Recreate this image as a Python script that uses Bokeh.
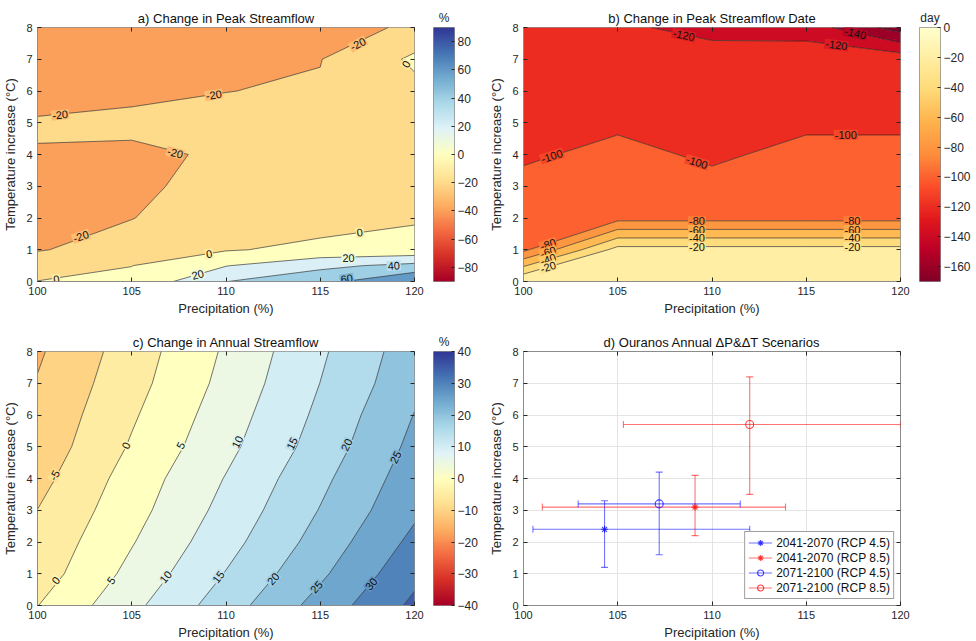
import numpy as np
from bokeh.plotting import figure
from bokeh.layouts import row, column
from bokeh.models import (ColumnDataSource, LinearAxis, FixedTicker, LinearColorMapper,
                          Legend, LegendItem, Range1d)
from bokeh.core.properties import value
from bokeh.embed import file_html
from bokeh.resources import INLINE

# ======================= DATA =======================
precip = [100, 105, 110, 115, 120]
precip_ticks = [100, 105, 110, 115, 120]
temp_ticks = [0, 1, 2, 3, 4, 5, 6, 7, 8]

# (a) Change in peak streamflow (%), one list per precipitation column
temp_a = [0, 0.5, 1, 2, 3, 4, 5, 6, 7, 8]
peak_p100 = [0.3, -7.2, -21.4, -25, -26, -22, -16.3, -34.8, -36, -37]
peak_p105 = [4.5, -0.3, -10.5, -20.5, -24.5, -24.5, -14.5, -25.5, -28, -30]
peak_p110 = [39.7, 19.2, -1.5, -8, -12, -17, -16, -20.2, -24, -28]
peak_p115 = [53.4, 35.3, 4.7, -8, -12, -14, -16, -18.5, -20.5, -37.5]
peak_p120 = [79.5, 45.6, 5.6, -1.6, -4, -5, -4, -5, 3.3, -13.2]
peak_levels = [-40, -20, 0, 20, 40, 60, 80, 100]
peak_cbar_ticks = [-80, -60, -40, -20, 0, 20, 40, 60, 80]

# (b) Change in peak streamflow date (day)
temp_b = [0, 1, 2, 3, 4, 5, 6, 7, 8]
date_p100 = [-0.5, -84.2, -90, -96, -102.2, -105, -108, -110, -112]
date_p105 = [-6, -12.6, -86.6, -92, -96, -102.5, -106, -110, -115.8]
date_p110 = [-6, -12.6, -86.6, -96, -102.3, -104, -106, -109, -127.6]
date_p115 = [-6, -12.6, -86.6, -92, -96, -102.5, -105, -108, -129]
date_p120 = [-6, -12.6, -86.6, -92, -96, -102.5, -105, -107.6, -169.6]
date_levels = [-180, -160, -140, -120, -100, -80, -60, -40, -20, 0]
date_cbar_ticks = [-160, -140, -120, -100, -80, -60, -40, -20, 0]

# (c) Change in annual streamflow (%)
temp_c = [0, 1, 2, 3, 4, 5, 6, 7, 8]
annual_p100 = [-0.1, -2.55, -3.67, -4.95, -6.65, -8.14, -8.94, -9.70, -10.68]
annual_p105 = [8.70, 6.43, 4.67, 3.19, 2.12, 0.53, -0.63, -1.80, -2.58]
annual_p110 = [17.65, 15.24, 13.20, 11.58, 10.25, 8.68, 7.59, 6.46, 5.68]
annual_p115 = [26.92, 24.10, 21.95, 20.23, 18.79, 17.13, 16.06, 15.05, 14.23]
annual_p120 = [36.09, 33.64, 31.30, 29.06, 27.68, 26.34, 25.15, 23.58, 22.76]
annual_levels = [-15, -10, -5, 0, 5, 10, 15, 20, 25, 30, 35, 40]
annual_cbar_ticks = [-40, -30, -20, -10, 0, 10, 20, 30, 40]

# (d) Ouranos annual dP & dT scenarios
scen_names = ["2041-2070 (RCP 4.5)", "2041-2070 (RCP 8.5)",
              "2071-2100 (RCP 4.5)", "2071-2100 (RCP 8.5)"]
scen_precip = [104.3, 109.1, 107.2, 112.0]
scen_precip_low = [100.5, 101.0, 102.9, 105.3]
scen_precip_high = [112.0, 113.9, 111.5, 120.0]
scen_temp = [2.4, 3.1, 3.2, 5.7]
scen_temp_low = [1.2, 2.2, 1.6, 3.5]
scen_temp_high = [3.3, 4.1, 4.2, 7.2]

# contour labels (level value, position in data units, rotation in degrees)
a_lab_val = [-20, -20, -20, 0, -20, -20, 0, 0, 0, 20, 20, 40, 60]
a_lab_p = [101.2, 109.35, 117.0, 119.55, 107.3, 102.3, 101.0, 109.1, 117.1, 108.5, 116.5, 118.9, 116.4]
a_lab_t = [5.25, 5.88, 7.48, 6.85, 4.05, 1.42, 0.08, 0.87, 1.55, 0.22, 0.74, 0.5, 0.09]
a_lab_rot = [6, 9, 28, 60, -14, 19, 9, 9, 8, 16, 1, 4, 8]

b_lab_val = [-120, -140, -120, -100, -100, -100,
             -80, -60, -40, -20, -80, -60, -40, -20,
             -80, -60, -40, -20]
b_lab_p = [108.5, 117.6, 116.6, 117.1, 101.5, 109.2,
           109.2, 109.2, 109.2, 109.2, 117.45, 117.45, 117.45, 117.45,
           101.3, 101.3, 101.3, 101.3]
b_lab_t = [7.76, 7.82, 7.45, 4.62, 3.95, 3.76,
           1.9, 1.63, 1.37, 1.1, 1.9, 1.63, 1.37, 1.1,
           1.17, 0.93, 0.7, 0.46]
b_lab_rot = [-12, -13, -7, 0, 18, -18,
             0, 0, 0, 0, 0, 0, 0, 0,
             18, 18, 18, 18]

c_lab_val = [-5, 0, 5, 10, 15, 20, 25,
             0, 5, 10, 15, 20, 25, 30]
c_lab_p = [100.9, 104.7, 107.6, 110.6, 113.5, 116.4, 119.0,
           100.97, 103.9, 106.8, 109.6, 112.5, 114.8, 117.7]
c_lab_t = [4.1, 5.04, 5.04, 5.15, 5.1, 5.06, 4.67,
           0.79, 0.79, 0.9, 0.9, 0.84, 0.58, 0.68]
c_lab_rot = [62, 64, 62, 64, 64, 64, 64,
             51, 54, 50, 52, 49, 48, 49]

# ======================= STYLE =======================
FONT = "Liberation Sans"
AX_COLOR = "#262626"
BOX_COLOR = "#8c8c8c"
RDYLBU = ['#a50026', '#d73027', '#f46d43', '#fdae61', '#fee090', '#ffffbf',
          '#e0f3f8', '#abd9e9', '#74add1', '#4575b4', '#313695']
YLORRD_R = ['#800026', '#bd0026', '#e31a1c', '#fc4e2a', '#fd8d3c', '#feb24c',
            '#fed976', '#ffeda0', '#ffffcc']


def hex_rgb(h):
    return np.array([int(h[i:i + 2], 16) for i in (1, 3, 5)], float)


def rgb_hex(c):
    return "#%02x%02x%02x" % tuple(int(round(v)) for v in c)


def cmap_color(anchors, s):
    s = min(max(s, 0.0), 1.0)
    rgb = np.array([hex_rgb(h) for h in anchors])
    pos = np.linspace(0, 1, len(anchors))
    return rgb_hex([np.interp(s, pos, rgb[:, k]) for k in range(3)])


def cmap_palette(anchors, n):
    return [cmap_color(anchors, s) for s in np.linspace(0, 1, n)]


def band_colors(levels, anchors, lo, hi):
    return [cmap_color(anchors, (lv - lo) / (hi - lo)) for lv in levels[:-1]]


def style_axis(ax, label_size="11px"):
    ax.axis_line_color = BOX_COLOR
    ax.major_tick_line_color = AX_COLOR
    ax.major_tick_in = 4
    ax.major_tick_out = 0
    ax.minor_tick_line_color = None
    ax.major_label_text_font = FONT
    ax.major_label_text_font_size = label_size
    ax.major_label_text_color = AX_COLOR
    ax.axis_label_text_font = FONT
    ax.axis_label_text_font_size = "13px"
    ax.axis_label_text_font_style = "normal"
    ax.axis_label_text_color = AX_COLOR


def add_mirror_axes(p):
    # tick marks only on the top and right edges (labels not drawn)
    top = LinearAxis(ticker=FixedTicker(ticks=precip_ticks))
    right = LinearAxis(ticker=FixedTicker(ticks=temp_ticks))
    for ax in (top, right):
        ax.major_label_text_font_size = "1px"
        ax.major_label_text_color = None
        ax.major_label_standoff = 0
        ax.major_tick_in = 4
        ax.major_tick_out = 0
        ax.minor_tick_line_color = None
        ax.axis_line_color = None
        ax.major_tick_line_color = AX_COLOR
    p.add_layout(top, "above")
    p.add_layout(right, "right")


def make_panel(title, ml, mr, mt, mb):
    p = figure(frame_width=377, frame_height=254,
               x_range=Range1d(100, 120), y_range=Range1d(0, 8),
               min_border_left=ml, min_border_right=mr,
               min_border_top=mt, min_border_bottom=mb,
               toolbar_location=None, output_backend="svg")
    p.title.text = title
    p.title.align = "center"
    p.title.text_font = FONT
    p.title.text_font_size = "13px"
    p.title.text_font_style = "normal"
    p.title.text_color = "#111111"
    p.title.standoff = 3
    p.xaxis.axis_label = "Precipitation (%)"
    p.yaxis.axis_label = "Temperature increase (°C)"
    p.xaxis.ticker = FixedTicker(ticks=precip_ticks)
    p.yaxis.ticker = FixedTicker(ticks=temp_ticks)
    style_axis(p.xaxis[0])
    style_axis(p.yaxis[0])
    p.xaxis.major_label_standoff = 5
    p.yaxis.major_label_standoff = 5
    p.xaxis.axis_label_standoff = 3
    p.yaxis.axis_label_standoff = 5
    p.grid.visible = False
    p.outline_line_color = BOX_COLOR
    p.outline_line_width = 1
    return p


def add_contour(p, temps, cols, levels, fills):
    z = np.array(cols, dtype=float).T
    p.contour(x=np.array(precip, float), y=np.array(temps, float), z=z, levels=levels,
              fill_color=fills, line_color="#1a1a1a", line_width=0.6)


def add_labels(p, xs, ys, vals, rots, levels, fills):
    # label box tinted with the mean of the two bands it separates (gap in line)
    bgs = []
    for v in vals:
        k = levels.index(v)
        lo_c = hex_rgb(fills[max(k - 1, 0)])
        hi_c = hex_rgb(fills[min(k, len(fills) - 1)])
        bgs.append(rgb_hex((lo_c + hi_c) / 2))
    src = ColumnDataSource(dict(x=xs, y=ys, text=[str(v) for v in vals], angle=rots, bg=bgs))
    p.text(x="x", y="y", text="text", angle="angle", angle_units="deg", source=src,
           text_align="center", text_baseline="middle",
           text_font=value(FONT), text_font_size="11px", text_color="#111111",
           background_fill_color="bg", padding=1)


def make_cbar(lo, hi, ticks, anchors, unit, mt, mb, mr):
    p = figure(frame_width=21, frame_height=254, x_range=Range1d(0, 1), y_range=Range1d(lo, hi),
               x_axis_location=None, y_axis_location="right",
               min_border_left=0, min_border_right=mr, min_border_top=mt, min_border_bottom=mb,
               toolbar_location=None, output_backend="svg")
    grad = np.linspace(lo, hi, 256).reshape(-1, 1)
    mapper = LinearColorMapper(palette=cmap_palette(anchors, 256), low=lo, high=hi)
    p.image(image=[grad], x=0, y=lo, dw=1, dh=hi - lo, color_mapper=mapper)
    p.yaxis.ticker = FixedTicker(ticks=ticks)
    style_axis(p.yaxis[0], "12px")
    p.yaxis.major_tick_in = 3
    p.yaxis.major_label_standoff = 3
    p.yaxis.axis_line_color = None
    p.grid.visible = False
    p.outline_line_color = BOX_COLOR
    p.title.text = unit
    p.title.align = "center"
    p.title.text_font = FONT
    p.title.text_font_size = "12px"
    p.title.text_font_style = "normal"
    p.title.text_color = AX_COLOR
    p.title.standoff = 5
    return p


# ---- layout geometry (px) ----
TOP1, BOT1 = 27, 37
TOP2, BOT2 = 33, 35

# (a)
fills_a = band_colors(peak_levels, RDYLBU, -90, 90)
pa = make_panel("a) Change in Peak Streamflow", 32, 19, TOP1, BOT1)
add_contour(pa, temp_a, [peak_p100, peak_p105, peak_p110, peak_p115, peak_p120],
            peak_levels, fills_a)
add_labels(pa, a_lab_p, a_lab_t, a_lab_val, a_lab_rot, peak_levels, fills_a)
add_mirror_axes(pa)
cba = make_cbar(-90, 90, peak_cbar_ticks, RDYLBU, "%", TOP1, BOT1, 32)

# (b)
fills_b = band_colors(date_levels, YLORRD_R, -170, 0)
pb = make_panel("b) Change in Peak Streamflow Date", 37, 19, TOP1, BOT1)
add_contour(pb, temp_b, [date_p100, date_p105, date_p110, date_p115, date_p120],
            date_levels, fills_b)
add_labels(pb, b_lab_p, b_lab_t, b_lab_val, b_lab_rot, date_levels, fills_b)
add_mirror_axes(pb)
cbb = make_cbar(-170, 0, date_cbar_ticks, YLORRD_R, "day", TOP1, BOT1, 25)

# (c)
fills_c = band_colors(annual_levels, RDYLBU, -40, 40)
pc = make_panel("c) Change in Annual Streamflow", 32, 19, TOP2, BOT2)
add_contour(pc, temp_c, [annual_p100, annual_p105, annual_p110, annual_p115, annual_p120],
            annual_levels, fills_c)
add_labels(pc, c_lab_p, c_lab_t, c_lab_val, c_lab_rot, annual_levels, fills_c)
add_mirror_axes(pc)
cbc = make_cbar(-40, 40, annual_cbar_ticks, RDYLBU, "%", TOP2, BOT2, 32)

# (d)
pd_ = make_panel("d) Ouranos Annual \u0394P&\u0394T Scenarios", 37, 19, TOP2, BOT2)
pd_.grid.visible = True
pd_.xgrid.grid_line_color = "#e4e4e4"
pd_.ygrid.grid_line_color = "#e4e4e4"
add_mirror_axes(pd_)

scen_colors = ["#0000ff", "#ff0000", "#0000ff", "#ff0000"]
scen_markers = ["asterisk", "asterisk", "circle", "circle"]
ALPHA = 0.55
items = []
for i, name in enumerate(scen_names):
    col = scen_colors[i]
    src = ColumnDataSource(dict(
        p=[scen_precip[i]], t=[scen_temp[i]],
        pl=[scen_precip_low[i]], ph=[scen_precip_high[i]],
        tl=[scen_temp_low[i]], th=[scen_temp_high[i]]))
    seg_x = pd_.segment(x0="pl", y0="t", x1="ph", y1="t", source=src,
                        line_color=col, line_alpha=ALPHA, line_width=1.1)
    pd_.segment(x0="p", y0="tl", x1="p", y1="th", source=src,
                line_color=col, line_alpha=ALPHA, line_width=1.1)
    for xf, yf, ang in (("pl", "t", 90), ("ph", "t", 90), ("p", "tl", 0), ("p", "th", 0)):
        pd_.scatter(x=xf, y=yf, source=src, marker="dash", size=7, angle=ang,
                    angle_units="deg", line_color=col, line_alpha=ALPHA, line_width=1.1)
    mk = pd_.scatter(x="p", y="t", source=src, marker=scen_markers[i],
                     size=8 if scen_markers[i] == "circle" else 7,
                     line_color=col, line_alpha=0.75, fill_color=None, line_width=1.1)
    items.append(LegendItem(label=name, renderers=[seg_x, mk]))

leg = Legend(items=items, location="bottom_right")
leg.label_text_font = FONT
leg.label_text_font_size = "12px"
leg.label_text_color = "#111111"
leg.glyph_height = 15
leg.label_height = 15
leg.glyph_width = 24
leg.spacing = 0
leg.padding = 3
leg.margin = 6
leg.label_standoff = 4
leg.border_line_color = "#404040"
leg.border_line_width = 1
leg.background_fill_alpha = 1
pd_.add_layout(leg)

layout = column(row(pa, cba, pb, cbb), row(pc, cbc, pd_))

with open("out.html", "w") as f:
    f.write(file_html(layout, INLINE))
